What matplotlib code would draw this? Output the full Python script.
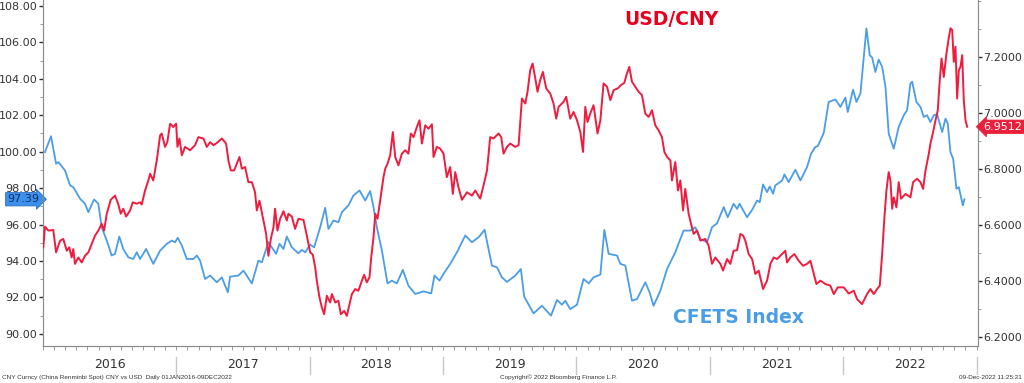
import matplotlib
matplotlib.use("Agg")
import matplotlib.pyplot as plt
import matplotlib.ticker as mticker
import matplotlib.transforms as mtransforms

# CFETS index (left axis) - years since 1 Jan 2016, value
cfets_t = [0.015, 0.060, 0.098, 0.115, 0.165, 0.203, 0.227, 0.278, 0.315, 0.340,
           0.383, 0.415, 0.440, 0.478, 0.515, 0.540, 0.572, 0.602, 0.640, 0.677,
           0.703, 0.728, 0.773, 0.827, 0.878, 0.928, 0.965, 0.990, 1.010, 1.041,
           1.078, 1.128, 1.153, 1.178, 1.215, 1.253, 1.303, 1.341, 1.386, 1.403,
           1.465, 1.503, 1.566, 1.615, 1.641, 1.690, 1.748, 1.773, 1.803, 1.828,
           1.866, 1.915, 1.941, 1.966, 2.003, 2.033, 2.078, 2.116, 2.140, 2.178,
           2.215, 2.241, 2.290, 2.328, 2.373, 2.416, 2.453, 2.478, 2.503, 2.541,
           2.583, 2.616, 2.653, 2.698, 2.740, 2.791, 2.853, 2.911, 2.935, 2.973,
           3.003, 3.053, 3.104, 3.166, 3.216, 3.266, 3.311, 3.366, 3.404, 3.441,
           3.479, 3.541, 3.583, 3.608, 3.678, 3.741, 3.809, 3.854, 3.891, 3.916,
           3.953, 4.004, 4.053, 4.091, 4.128, 4.179, 4.209, 4.241, 4.304, 4.329,
           4.366, 4.416, 4.454, 4.516, 4.548, 4.578, 4.629, 4.679, 4.741, 4.803,
           4.854, 4.891, 4.929, 4.979, 5.016, 5.054, 5.104, 5.134, 5.178, 5.204,
           5.223, 5.279, 5.317, 5.354, 5.374, 5.399, 5.429, 5.449, 5.474, 5.491,
           5.542, 5.559, 5.591, 5.641, 5.679, 5.729, 5.759, 5.791, 5.809, 5.854,
           5.891, 5.941, 5.979, 6.016, 6.034, 6.074, 6.099, 6.129, 6.174, 6.199,
           6.217, 6.241, 6.266, 6.292, 6.317, 6.341, 6.379, 6.416, 6.454, 6.479,
           6.504, 6.517, 6.549, 6.579, 6.604, 6.629, 6.654, 6.679, 6.704, 6.742,
           6.767, 6.784, 6.804, 6.824, 6.849, 6.867, 6.897, 6.909]
cfets_v = [99.98, 100.85, 99.34, 99.43, 98.97, 98.15, 98.05, 97.42, 97.14, 96.68,
           97.38, 97.14, 95.85, 95.12, 94.30, 94.39, 95.34, 94.66, 94.20, 94.11,
           94.48, 94.11, 94.66, 93.84, 94.57, 94.94, 95.12, 95.03, 95.27, 94.85,
           94.11, 94.11, 94.30, 94.02, 93.01, 93.20, 92.83, 93.10, 92.28, 93.14,
           93.20, 93.47, 92.77, 94.02, 93.93, 95.03, 94.39, 94.94, 94.66, 95.34,
           94.75, 94.42, 94.61, 94.48, 94.90, 94.75, 95.85, 96.92, 95.76, 96.22,
           96.13, 96.68, 97.05, 97.60, 97.87, 97.32, 97.84, 96.96, 95.85, 94.57,
           92.77, 92.92, 92.77, 93.51, 92.64, 92.19, 92.33, 92.22, 93.20, 92.92,
           93.29, 93.84, 94.48, 95.40, 95.03, 95.30, 95.71, 93.75, 93.65, 93.10,
           92.85, 93.20, 93.56, 92.04, 91.12, 91.54, 91.00, 91.86, 91.60, 91.82,
           91.36, 91.60, 93.01, 92.77, 93.10, 93.25, 95.71, 94.39, 94.30, 93.84,
           93.75, 91.82, 91.91, 92.83, 92.28, 91.54, 92.37, 93.56, 94.48, 95.67,
           95.67, 95.85, 95.21, 95.03, 95.85, 96.07, 96.96, 96.40, 97.14, 96.86,
           97.14, 96.40, 96.81, 97.32, 97.23, 98.20, 97.78, 98.09, 97.69, 98.15,
           98.42, 98.75, 98.33, 99.01, 98.42, 99.16, 99.89, 100.26, 100.30, 101.03,
           102.73, 102.87, 102.46, 102.97, 102.18, 103.41, 102.73, 103.20, 106.77, 105.30,
           105.17, 104.38, 105.06, 104.66, 103.56, 100.99, 100.17, 101.36, 102.00, 102.28,
           103.75, 103.84, 102.73, 102.46, 101.91, 102.00, 101.63, 102.00, 102.06, 101.08,
           101.82, 101.54, 99.98, 99.62, 97.97, 98.05, 97.05, 97.39]

# USD/CNY (right axis)
usdcny_t = [0.002, 0.015, 0.040, 0.077, 0.098, 0.128, 0.152, 0.178, 0.197, 0.215,
            0.227, 0.240, 0.265, 0.290, 0.315, 0.340, 0.365, 0.390, 0.415, 0.440,
            0.458, 0.478, 0.508, 0.540, 0.565, 0.583, 0.602, 0.623, 0.653, 0.673,
            0.703, 0.728, 0.740, 0.765, 0.790, 0.803, 0.827, 0.853, 0.878, 0.890,
            0.915, 0.932, 0.953, 0.977, 0.998, 1.008, 1.023, 1.041, 1.065, 1.103,
            1.140, 1.165, 1.203, 1.228, 1.253, 1.278, 1.303, 1.341, 1.373, 1.390,
            1.408, 1.433, 1.453, 1.473, 1.491, 1.515, 1.540, 1.566, 1.590, 1.603,
            1.623, 1.648, 1.673, 1.690, 1.708, 1.728, 1.740, 1.758, 1.778, 1.803,
            1.828, 1.840, 1.866, 1.890, 1.915, 1.953, 1.978, 2.003, 2.023, 2.041,
            2.053, 2.073, 2.091, 2.108, 2.128, 2.153, 2.166, 2.191, 2.215, 2.233,
            2.258, 2.278, 2.298, 2.316, 2.341, 2.365, 2.391, 2.408, 2.428, 2.448,
            2.461, 2.478, 2.491, 2.508, 2.528, 2.553, 2.566, 2.583, 2.603, 2.623,
            2.641, 2.665, 2.691, 2.716, 2.740, 2.758, 2.778, 2.803, 2.823, 2.841,
            2.866, 2.891, 2.916, 2.928, 2.953, 2.978, 3.003, 3.028, 3.053, 3.073,
            3.091, 3.115, 3.141, 3.179, 3.216, 3.241, 3.278, 3.303, 3.329, 3.353,
            3.378, 3.416, 3.436, 3.453, 3.479, 3.503, 3.541, 3.566, 3.591, 3.616,
            3.633, 3.653, 3.671, 3.691, 3.708, 3.728, 3.748, 3.773, 3.803, 3.828,
            3.848, 3.866, 3.903, 3.923, 3.953, 3.978, 4.004, 4.029, 4.049, 4.066,
            4.083, 4.103, 4.128, 4.158, 4.179, 4.203, 4.229, 4.254, 4.279, 4.309,
            4.334, 4.359, 4.374, 4.396, 4.416, 4.441, 4.466, 4.491, 4.516, 4.541,
            4.566, 4.591, 4.616, 4.641, 4.659, 4.679, 4.704, 4.716, 4.741, 4.761,
            4.779, 4.799, 4.816, 4.841, 4.859, 4.878, 4.904, 4.929, 4.966, 4.991,
            5.016, 5.041, 5.079, 5.099, 5.129, 5.154, 5.178, 5.204, 5.229, 5.249,
            5.266, 5.291, 5.317, 5.341, 5.366, 5.399, 5.429, 5.454, 5.479, 5.504,
            5.529, 5.566, 5.579, 5.604, 5.634, 5.666, 5.699, 5.729, 5.754, 5.779,
            5.799, 5.829, 5.866, 5.904, 5.929, 5.959, 6.004, 6.041, 6.079, 6.104,
            6.141, 6.179, 6.204, 6.229, 6.254, 6.274, 6.292, 6.309, 6.324, 6.341,
            6.354, 6.367, 6.379, 6.399, 6.416, 6.434, 6.467, 6.504, 6.524, 6.554,
            6.579, 6.599, 6.617, 6.642, 6.654, 6.674, 6.692, 6.709, 6.724, 6.737,
            6.754, 6.774, 6.791, 6.804, 6.817, 6.829, 6.842, 6.854, 6.867, 6.879,
            6.892, 6.904, 6.917, 6.929]
usdcny_v = [6.520, 6.594, 6.580, 6.582, 6.502, 6.544, 6.550, 6.508, 6.520, 6.484,
            6.514, 6.461, 6.484, 6.466, 6.490, 6.502, 6.532, 6.562, 6.580, 6.604,
            6.580, 6.640, 6.690, 6.705, 6.673, 6.640, 6.658, 6.630, 6.652, 6.681,
            6.676, 6.681, 6.673, 6.723, 6.759, 6.783, 6.759, 6.831, 6.920, 6.927,
            6.879, 6.896, 6.962, 6.950, 6.962, 6.879, 6.909, 6.849, 6.879, 6.867,
            6.885, 6.914, 6.909, 6.879, 6.896, 6.885, 6.893, 6.909, 6.891, 6.831,
            6.795, 6.795, 6.819, 6.843, 6.801, 6.807, 6.753, 6.753, 6.717, 6.652,
            6.687, 6.628, 6.568, 6.490, 6.550, 6.592, 6.658, 6.580, 6.622, 6.649,
            6.616, 6.640, 6.630, 6.586, 6.622, 6.618, 6.562, 6.502, 6.494, 6.448,
            6.401, 6.341, 6.305, 6.281, 6.347, 6.323, 6.353, 6.323, 6.329, 6.281,
            6.293, 6.275, 6.317, 6.353, 6.371, 6.365, 6.401, 6.422, 6.395, 6.413,
            6.484, 6.556, 6.640, 6.622, 6.687, 6.771, 6.801, 6.819, 6.849, 6.932,
            6.843, 6.813, 6.855, 6.867, 6.855, 6.927, 6.914, 6.950, 6.974, 6.891,
            6.956, 6.944, 6.960, 6.843, 6.879, 6.873, 6.855, 6.771, 6.807, 6.711,
            6.789, 6.735, 6.690, 6.717, 6.705, 6.723, 6.694, 6.741, 6.795, 6.914,
            6.909, 6.927, 6.914, 6.855, 6.879, 6.891, 6.879, 6.885, 7.052, 7.034,
            7.076, 7.153, 7.177, 7.124, 7.076, 7.118, 7.147, 7.088, 7.070, 7.034,
            6.980, 7.022, 7.040, 7.058, 6.980, 7.004, 6.974, 6.932, 6.861, 7.022,
            6.968, 6.998, 7.028, 6.927, 6.974, 7.106, 7.094, 7.046, 7.082, 7.088,
            7.100, 7.108, 7.135, 7.165, 7.112, 7.094, 7.076, 7.064, 6.998, 6.986,
            7.010, 6.956, 6.938, 6.914, 6.861, 6.843, 6.831, 6.759, 6.825, 6.723,
            6.759, 6.652, 6.729, 6.640, 6.604, 6.568, 6.580, 6.544, 6.550, 6.526,
            6.461, 6.484, 6.461, 6.437, 6.478, 6.461, 6.508, 6.510, 6.568, 6.562,
            6.544, 6.496, 6.478, 6.425, 6.437, 6.371, 6.401, 6.461, 6.484, 6.478,
            6.490, 6.508, 6.466, 6.484, 6.496, 6.472, 6.454, 6.461, 6.472, 6.425,
            6.389, 6.401, 6.389, 6.383, 6.353, 6.377, 6.377, 6.355, 6.365, 6.335,
            6.317, 6.353, 6.371, 6.353, 6.371, 6.383, 6.496, 6.628, 6.723, 6.789,
            6.759, 6.658, 6.699, 6.663, 6.753, 6.694, 6.711, 6.699, 6.753, 6.765,
            6.753, 6.729, 6.795, 6.855, 6.891, 6.932, 6.974, 7.010, 7.118, 7.195,
            7.129, 7.213, 7.267, 7.303, 7.297, 7.183, 7.237, 7.052, 7.153, 7.165,
            7.207, 7.046, 6.974, 6.951]

years = [2016, 2017, 2018, 2019, 2020, 2021, 2022]
left_ticks = [90, 92, 94, 96, 98, 100, 102, 104, 106, 108]
right_ticks = [6.2, 6.4, 6.6, 6.8, 7.0, 7.2]
last_cfets = "97.39"
last_usdcny = "6.9512"

RED = "#ee1c3e"
BLUE = "#4a9de6"
GREY = "#8c8c8c"
TXT = "#333333"

plt.rcParams["font.family"] = ["DejaVu Sans"]

fig = plt.figure(figsize=(10.24, 3.83), dpi=100)
ax = fig.add_axes([0.042, 0.097, 0.913, 0.903])
ax2 = ax.twinx()

x_cfets = [years[0] + t for t in cfets_t]
x_usd = [years[0] + t for t in usdcny_t]

ax.plot(x_cfets, cfets_v, color=BLUE, lw=1.3, zorder=3)
ax2.plot(x_usd, usdcny_v, color=RED, lw=1.4, zorder=3)

ax.set_xlim(years[0], years[-1] + 1.01)
ax.set_ylim(89.34, 108.33)
ax2.set_ylim(6.168, 7.404)

ax.yaxis.set_major_locator(mticker.FixedLocator(left_ticks))
ax.yaxis.set_minor_locator(mticker.MultipleLocator(1))
ax.yaxis.set_major_formatter(mticker.FormatStrFormatter("%.2f"))
ax2.yaxis.set_major_locator(mticker.FixedLocator(right_ticks))
ax2.yaxis.set_minor_locator(mticker.MultipleLocator(0.1))
ax2.yaxis.set_major_formatter(mticker.FormatStrFormatter("%.4f"))

ax.xaxis.set_major_locator(mticker.NullLocator())
ax.xaxis.set_minor_locator(mticker.MultipleLocator(1 / 12))
ax.tick_params(axis="x", which="minor", length=3, color=GREY, direction="out")
ax.tick_params(axis="y", which="major", length=3, width=1, color=TXT,
               labelsize=8, labelcolor=TXT, pad=1)
ax.tick_params(axis="y", which="minor", length=2, color=GREY)
ax2.tick_params(axis="y", which="major", length=3, width=1, color=TXT,
                labelsize=8, labelcolor=TXT, pad=1)
ax2.tick_params(axis="y", which="minor", length=2, color=GREY)

for a in (ax, ax2):
    a.spines["top"].set_visible(False)
    for s in ("left", "right", "bottom"):
        a.spines[s].set_color(GREY)
        a.spines[s].set_linewidth(0.8)

# year labels and separators under the axis
xtrans = mtransforms.blended_transform_factory(ax.transData, ax.transAxes)
for y in years:
    ax.text(y + 0.5, -0.054, str(y), transform=xtrans, ha="center", va="center",
            fontsize=9, color=TXT, clip_on=False)
for y in years[1:] + [years[-1] + 1]:
    ax.plot([y, y], [-0.033, -0.08], transform=xtrans, color="#c8c8c8",
            lw=1, clip_on=False)

# series labels
ax.text(0.672, 0.945, "USD/CNY", transform=ax.transAxes, ha="center", va="center",
        fontsize=13.5, fontweight="bold", color="#e6001e")
ax.text(0.744, 0.083, "CFETS Index", transform=ax.transAxes, ha="center", va="center",
        fontsize=13.5, fontweight="bold", color=BLUE)

# last value tags
ltrans = mtransforms.blended_transform_factory(ax.transAxes, ax.transData)
ax.text(-0.004, cfets_v[-1], last_cfets, transform=ltrans, ha="right", va="center",
        fontsize=8, color="#10306a", clip_on=False,
        bbox=dict(boxstyle="rarrow,pad=0.15", fc="#3c8fea", ec="#2c6fc0", lw=0.6))
rtrans = mtransforms.blended_transform_factory(ax2.transAxes, ax2.transData)
ax2.text(1.006, usdcny_v[-1], last_usdcny, transform=rtrans, ha="left", va="center",
         fontsize=8, color="white", clip_on=False,
         bbox=dict(boxstyle="larrow,pad=0.15", fc="#e8203c", ec="#e8203c", lw=0.6))

# footer
fig.text(0.002, 0.014, "CNY Curncy (China Renminbi Spot) CNY vs USD  Daily 01JAN2016-09DEC2022",
         fontsize=4.6, color=TXT, family="Liberation Sans", ha="left", va="center")
fig.text(0.545, 0.014, "Copyright\u00a9 2022 Bloomberg Finance L.P.",
         fontsize=4.6, color=TXT, family="Liberation Sans", ha="center", va="center")
fig.text(0.998, 0.014, "09-Dec-2022 11:25:21",
         fontsize=4.6, color=TXT, family="Liberation Sans", ha="right", va="center")

fig.savefig("out.png", dpi=100)
